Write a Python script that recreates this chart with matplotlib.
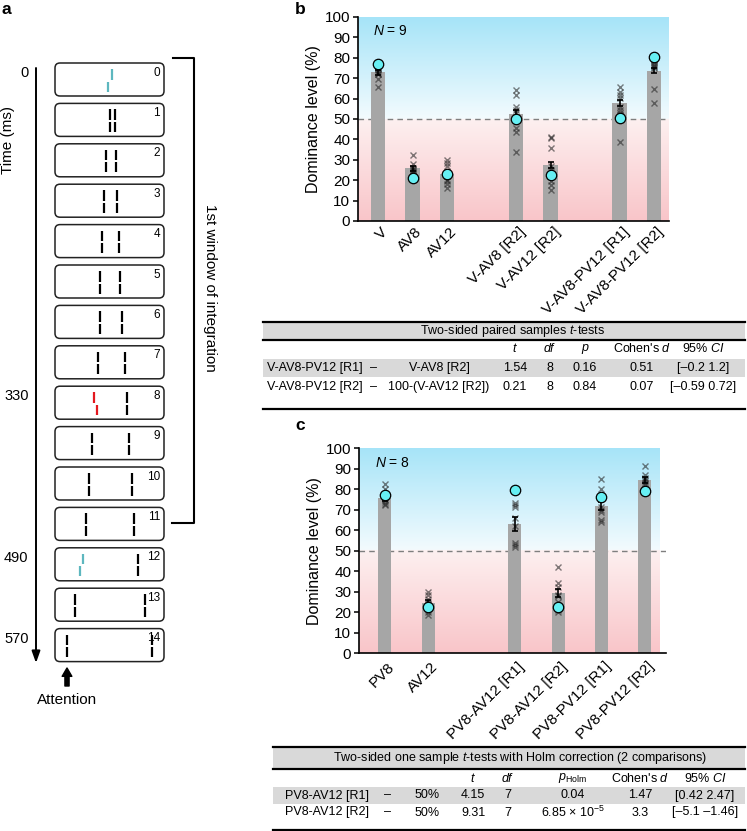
import numpy as np
import matplotlib
matplotlib.use('Agg')
import matplotlib.pyplot as plt
from matplotlib.patches import FancyBboxPatch, Rectangle
from matplotlib.transforms import ScaledTranslation

plt.rcParams['font.family'] = ['Liberation Sans', 'DejaVu Sans']
plt.rcParams['mathtext.fontset'] = 'custom'
plt.rcParams['mathtext.rm'] = 'Liberation Sans'
plt.rcParams['mathtext.it'] = 'Liberation Sans:italic'
plt.rcParams['mathtext.bf'] = 'Liberation Sans:bold'

# ---------------- Panel a data (schematic) ----------------
frame_ids = list(range(15))
left_line_x = [110, 110, 105.5, 103.5, 101.5, 100, 99.5, 97.5, 95.8, 91.5, 88.5, 86, 81.7, 75, 66.7]
right_line_x = [None, 115, 115.5, 117, 118.5, 120, 122, 124.5, 126.7, 129, 131.7, 134.3, 137.7, 145, 151.7]
left_line_color = ['cyan', 'k', 'k', 'k', 'k', 'k', 'k', 'k', 'red', 'k', 'k', 'k', 'cyan', 'k', 'k']
left_vernier_offset = [2, 0, 0, 0, 0, 0, 0, 0, -1.5, 0, 0, 0, 1.7, 0, 0]
time_labels = ['0', '330', '490', '570']
time_label_frames = [0, 8, 12, 14]

# ---------------- Panel b data ----------------
b_labels = ['V', 'AV8', 'AV12', 'V-AV8 [R2]', 'V-AV12 [R2]', 'V-AV8-PV12 [R1]', 'V-AV8-PV12 [R2]']
b_pos = [0, 1, 2, 4, 5, 7, 8]
b_means = [73.0, 25.8, 23.0, 52.3, 27.4, 57.7, 73.6]
b_sem = [1.2, 1.3, 1.0, 2.0, 1.3, 1.5, 1.2]
b_model = [77.0, 21.0, 23.0, 49.8, 22.6, 50.3, 80.3]
b_subjects = [
    [76, 75, 75, 74, 73, 72, 72, 69.5, 65.5],
    [32.4, 27.9, 26, 25.5, 25, 24.5, 24, 23.5, 22],
    [30, 28.5, 27, 24, 22, 20, 19.5, 18, 16.4],
    [64, 62, 56, 54.4, 53, 51, 45.7, 43.8, 34],
    [41.3, 40.5, 35.7, 27, 25, 22, 19.5, 17.5, 15],
    [65.9, 63.4, 61.8, 60.2, 56, 54.4, 53, 52, 38.8],
    [79, 78, 77, 76.5, 76, 75.5, 75, 64.6, 57.7],
]

# ---------------- Panel c data ----------------
c_labels = ['PV8', 'AV12', 'PV8-AV12 [R1]', 'PV8-AV12 [R2]', 'PV8-PV12 [R1]', 'PV8-PV12 [R2]']
c_pos = [0, 1, 3, 4, 5, 6]
c_means = [75.6, 24.4, 63.3, 29.6, 72.0, 84.6]
c_sem = [1.2, 1.5, 3.4, 2.0, 2.0, 1.5]
c_model = [77.0, 22.6, 79.7, 22.8, 76.4, 79.2]
c_subjects = [
    [82.6, 80.3, 77, 76, 74.8, 73.8, 72.8, 72.5],
    [30, 28.3, 26.7, 25, 24, 22, 20.3, 18.7],
    [73.2, 72.5, 71.5, 66, 62, 54, 53, 52],
    [42, 34.1, 32.5, 28.5, 28, 25, 21, 20.3],
    [85, 80, 76, 71.5, 70, 69, 65, 64],
    [91.4, 87, 85.4, 85, 84, 83, 82, 80],
]

# ---------------- Tables ----------------
tb_title = 'Two-sided paired samples $t$-tests'
tb_cols = ['$t$', '$df$', '$p$', "Cohen's $d$", '95% $CI$']
tb_rows = [
    ['V-AV8-PV12 [R1]', '–', 'V-AV8 [R2]', '1.54', '8', '0.16', '0.51', '[–0.2 1.2]'],
    ['V-AV8-PV12 [R2]', '–', '100-(V-AV12 [R2])', '0.21', '8', '0.84', '0.07', '[–0.59 0.72]'],
]
tc_title = 'Two-sided one sample $t$-tests with Holm correction (2 comparisons)'
tc_cols = ['$t$', '$df$', r'$p_{\mathregular{Holm}}$', "Cohen's $d$", '95% $CI$']
tc_rows = [
    ['PV8-AV12 [R1]', '–', '50%', '4.15', '7', '0.04', '1.47', '[0.42 2.47]'],
    ['PV8-AV12 [R2]', '–', '50%', '9.31', '7', r'6.85 × 10$^{\mathregular{−5}}$', '3.3', '[–5.1 –1.46]'],
]

W, H = 747, 831
fig = plt.figure(figsize=(W / 100, H / 100), dpi=100)

# overlay axes in pixel coordinates
ax0 = fig.add_axes([0, 0, 1, 1])
ax0.set_xlim(0, W)
ax0.set_ylim(H, 0)
ax0.axis('off')

colmap = {'k': 'black', 'cyan': '#5db7bf', 'red': '#e3171e'}

# ---- panel a ----
ax0.text(1, 10, 'a', fontsize=12.5, fontweight='bold', va='center', ha='left')
fx0, fw, fh, ftop, fstep = 55, 109, 33, 63, 40.4
for k in frame_ids:
    top = ftop + k * fstep
    ax0.add_patch(FancyBboxPatch((fx0, top), fw, fh,
                                 boxstyle='round,pad=0,rounding_size=5',
                                 fc='white', ec='#222222', lw=1.1))
    ax0.text(160, top + 9.5, str(k), fontsize=8.5, ha='right', va='center')
    seg1 = (top + 6.0, top + 16.5)
    seg2 = (top + 18.5, top + 28.5)
    lx = left_line_x[k]
    off = left_vernier_offset[k]
    c = colmap[left_line_color[k]]
    ax0.plot([lx + off, lx + off], seg1, color=c, lw=1.6, solid_capstyle='butt')
    ax0.plot([lx - off, lx - off], seg2, color=c, lw=1.6, solid_capstyle='butt')
    if right_line_x[k] is not None:
        rx = right_line_x[k]
        ax0.plot([rx, rx], seg1, color='black', lw=1.6, solid_capstyle='butt')
        ax0.plot([rx, rx], seg2, color='black', lw=1.6, solid_capstyle='butt')

# time axis
ax0.annotate('', xy=(36, 663), xytext=(36, 68),
             arrowprops=dict(arrowstyle='-|>,head_width=0.25,head_length=0.7',
                             lw=1.4, color='black', shrinkA=0, shrinkB=0))
for lab, fr in zip(time_labels, time_label_frames):
    ax0.text(28.5, ftop + fr * fstep + 10, lab, fontsize=10.5, ha='right', va='center')
ax0.text(8, 140, 'Time (ms)', fontsize=11, rotation=90, ha='center', va='center')

# bracket
ax0.plot([173, 194, 194, 172], [58, 58, 523, 523], color='black', lw=1.5)
ax0.text(210, 288, '1st window of integration', fontsize=11, rotation=270,
         ha='center', va='center')

# attention
ax0.annotate('', xy=(67, 668), xytext=(67, 686),
             arrowprops=dict(arrowstyle='simple,head_width=0.7,head_length=0.6,tail_width=0.3',
                             color='black', shrinkA=0, shrinkB=0))
ax0.text(67, 700, 'Attention', fontsize=11, ha='center', va='center')

# panel letters
ax0.text(300, 10, 'b', fontsize=12.5, fontweight='bold', va='center', ha='center')
ax0.text(300, 425, 'c', fontsize=12.5, fontweight='bold', va='center', ha='center')


def draw_table(title, cols, rows, x0, x1, ytop, yhead_line, ycol, yrow, band_h,
               title_x, col_x, first_x, dash_x, third_x, third_ha, ybottom):
    fs = 9
    ax0.add_patch(Rectangle((x0, ytop), x1 - x0, yhead_line - ytop, fc='#d9d9d9', ec='none'))
    ax0.plot([x0, x1], [ytop, ytop], color='black', lw=1.6)
    ax0.plot([x0, x1], [yhead_line, yhead_line], color='black', lw=1.6)
    ax0.text(title_x, (ytop + yhead_line) / 2, title, fontsize=fs, ha='center', va='center')
    for cx, ct in zip(col_x, cols):
        ax0.text(cx, ycol, ct, fontsize=fs, ha='center', va='center')
    for i, (r, yy) in enumerate(zip(rows, yrow)):
        if i == 0:
            ax0.add_patch(Rectangle((x0, yy - band_h / 2), x1 - x0, band_h,
                                    fc='#d9d9d9', ec='none'))
        ax0.text(first_x, yy, r[0], fontsize=fs, ha='left', va='center')
        ax0.text(dash_x, yy, r[1], fontsize=fs, ha='center', va='center')
        ax0.text(third_x, yy, r[2], fontsize=fs, ha=third_ha, va='center')
        for cx, val in zip(col_x, r[3:]):
            ax0.text(cx, yy, val, fontsize=fs, ha='center', va='center')
    ax0.plot([x0, x1], [ybottom, ybottom], color='black', lw=1.6)


draw_table(tb_title, tb_cols, tb_rows, 263, 745, 322, 340, 349, [368, 387], 18,
           513, [515, 550, 585, 642, 703], 267, 373, 439, 'center', 409)
draw_table(tc_title, tc_cols, tc_rows, 273, 745, 747, 769, 778, [795.5, 812.5], 17,
           520, [473, 508, 573, 640, 705], 285, 387, 427, 'center', 829.5)


def gradient_img():
    vals = np.linspace(0, 100, 400)
    blue = np.array([166, 228, 248]) / 255
    white = np.array([243, 251, 254]) / 255
    pink0 = np.array([249, 197, 201]) / 255
    pink50 = np.array([253, 240, 240]) / 255
    img = np.zeros((len(vals), 1, 3))
    for i, v in enumerate(vals):
        if v >= 50:
            t = (v - 50) / 50
            img[i, 0] = white * (1 - t) + blue * t
        else:
            t = v / 50
            img[i, 0] = pink0 * (1 - t) + pink50 * t
    return img


def draw_panel(rect, pos, means, sem, model, subj, labels, xlim, gxmax, width, ntext, ntx, lab_dy):
    ax = fig.add_axes(rect)
    ax.set_facecolor('none')
    ax.imshow(gradient_img(), extent=[xlim[0], gxmax, 0, 100], origin='lower',
              aspect='auto', zorder=0, interpolation='bilinear')
    ax.bar(pos, means, width=width, color='#a6a6a6', zorder=2)
    for p, vals in zip(pos, subj):
        ax.plot([p] * len(vals), vals, 'x', color='#2a2a2a', alpha=0.6, ms=4.8, mew=1.0, zorder=3)
    ax.errorbar(pos, means, yerr=sem, fmt='none', ecolor='black', elinewidth=1.2,
                capsize=2.5, capthick=1.2, zorder=4)
    ax.plot(pos, model, 'o', mfc='#66eff3', mec='black', mew=0.9, ms=7.5, zorder=5)
    ax.axhline(50, color='#7f7f7f', lw=1.0, dashes=(4, 3), zorder=1)
    ax.set_xlim(*xlim)
    ax.set_ylim(0, 100)
    ax.set_yticks(np.arange(0, 101, 10))
    ax.set_xticks(pos)
    ax.set_xticklabels(labels, rotation=45, ha='right', va='top', rotation_mode='anchor')
    ax.tick_params(axis='x', length=0, pad=lab_dy, labelsize=11)
    ax.tick_params(axis='y', length=3.5, width=1.1, pad=2, labelsize=11)
    shift = ScaledTranslation(2.5 / 100, 0, fig.dpi_scale_trans)
    for lab in ax.get_xticklabels():
        lab.set_transform(lab.get_transform() + shift)
    for s in ['top', 'right']:
        ax.spines[s].set_visible(False)
    for s in ['left', 'bottom']:
        ax.spines[s].set_linewidth(1.2)
    ax.set_ylabel('Dominance level (%)', fontsize=11.5, labelpad=3)
    ax.text(ntx, 93, ntext, fontsize=10, ha='left', va='center')
    return ax


draw_panel([358 / W, 1 - 221 / H, 311 / W, 204 / H], b_pos, b_means, b_sem, b_model,
           b_subjects, b_labels, (-0.58, 8.43), 8.43, 0.42, '$N$ = 9', -0.14, 3)
draw_panel([359 / W, 1 - 653.3 / H, 307 / W, 205 / H], c_pos, c_means, c_sem, c_model,
           c_subjects, c_labels, (-0.6, 6.49), 6.35, 0.3, '$N$ = 8', -0.23, 4.5)

fig.savefig('out.png', dpi=100)
